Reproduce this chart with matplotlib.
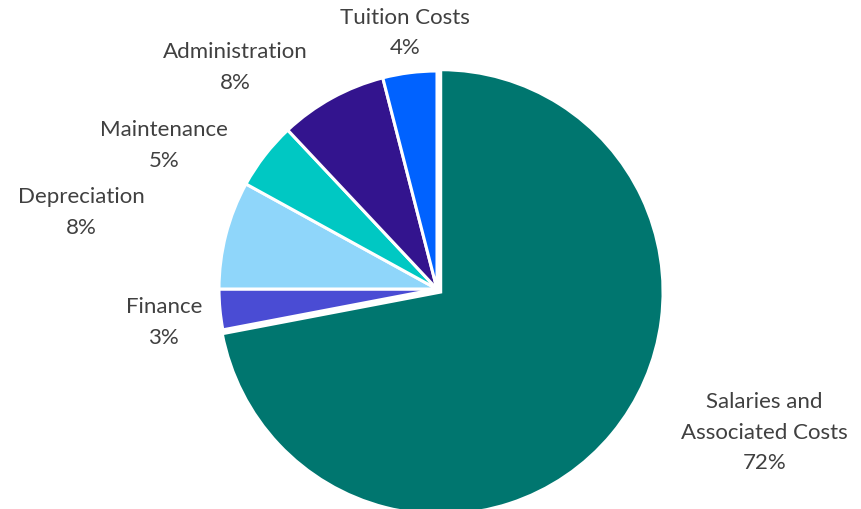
import matplotlib
matplotlib.use("Agg")
import matplotlib.pyplot as plt

categories = ["Salaries and\nAssociated Costs", "Finance", "Depreciation",
              "Maintenance", "Administration", "Tuition Costs"]
shares = [72, 3, 8, 5, 8, 4]
colors = ["#00766F", "#4A4CD4", "#8FD6FA", "#00C8C3", "#33148E", "#0062FF"]
explode = [0.022, 0, 0, 0, 0, 0]

# label centres, relative to the pie centre in radius units
label_pos = [(1.501, -0.655), (-1.253, -0.150), (-1.630, 0.356),
             (-1.253, 0.663), (-0.927, 1.020), (-0.147, 1.179)]

plt.rcParams["font.family"] = ["Lato", "DejaVu Sans"]

W, H, R = 862, 510, 218.0
cx, cy = 437, 290
fig = plt.figure(figsize=(W / 100, H / 100), dpi=100)
ax = fig.add_axes([0, 0, 1, 1])

wedges, _ = ax.pie(shares, colors=colors, startangle=90, counterclock=False,
                   explode=explode, radius=1.0,
                   wedgeprops=dict(edgecolor="white", linewidth=2.2))
wedges[0].set_radius(1.02)

ax.set_xlim(-cx / R, (W - cx) / R)
ax.set_ylim(-(H - cy) / R, cy / R)
ax.set_aspect("equal", adjustable="datalim")
ax.axis("off")

for name, val, (x, y) in zip(categories, shares, label_pos):
    ax.text(x, y, f"{name}\n{val}%", ha="center", va="center",
            fontsize=16, color="#404040", linespacing=1.66)

fig.savefig("out.png", dpi=100)
